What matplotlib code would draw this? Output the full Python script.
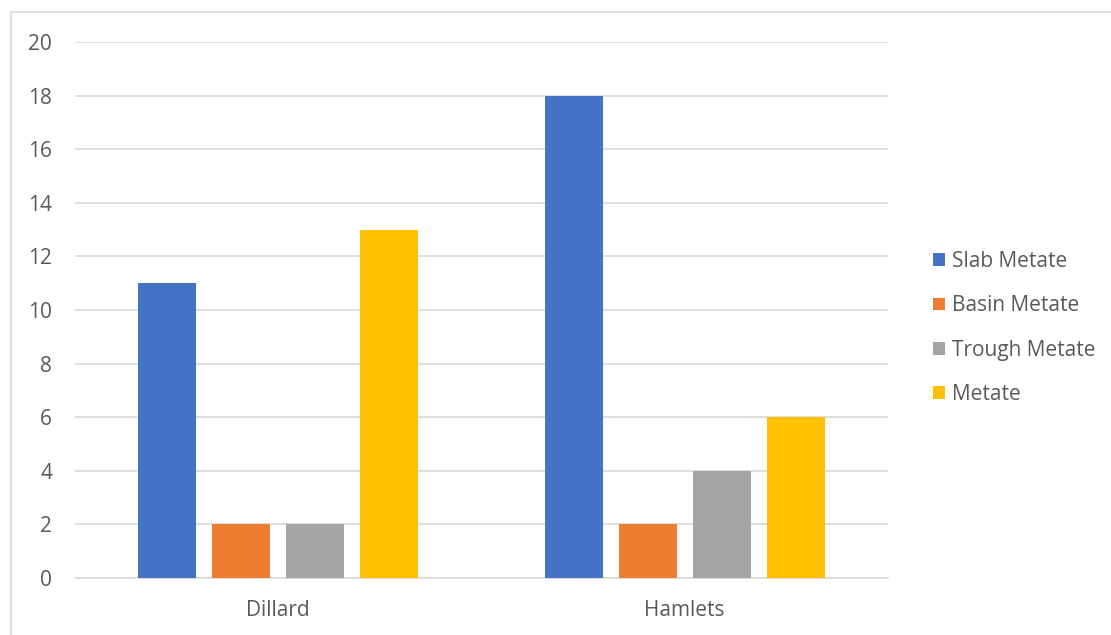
import matplotlib
matplotlib.use("Agg")
import matplotlib.pyplot as plt
from matplotlib.patches import Rectangle, Patch
import numpy as np

categories = ["Dillard", "Hamlets"]
series_names = ["Slab Metate", "Basin Metate", "Trough Metate", "Metate"]
slab = [11, 18]
basin = [2, 2]
trough = [2, 4]
metate = [13, 6]
yticks = [0, 2, 4, 6, 8, 10, 12, 14, 16, 18, 20]

colors = ["#4472C4", "#ED7D31", "#A5A5A5", "#FFC000"]
text_color = "#595959"
grid_color = "#D9D9D9"

plt.rcParams['font.family'] = ['Open Sans', 'DejaVu Sans']

W, H = 1111, 635
fig = plt.figure(figsize=(W / 100, H / 100), dpi=100)
ax = fig.add_axes([75 / W, (H - 578) / H, (888 - 75) / W, (578 - 42) / H])

# chart border
fig.patches.append(Rectangle((10.5 / W, -0.1), 1.2, (H - 12.5) / H + 0.1,
                             transform=fig.transFigure, fill=False,
                             edgecolor="#D9D9D9", linewidth=1.2))

x = np.arange(len(categories))
width = 58 / 406.5
step = 74 / 406.5
data = [slab, basin, trough, metate]
for i, (vals, name, c) in enumerate(zip(data, series_names, colors)):
    ax.bar(x + (i - 1.5) * step, vals, width=width, color=c, label=name, zorder=3)

ax.set_xlim(-0.5, 1.5)
ax.set_ylim(0, 20)
ax.set_yticks(yticks)
ax.set_yticklabels([str(t) for t in yticks])
ax.set_xticks(x)
ax.set_xticklabels(categories)
ax.yaxis.grid(True, color=grid_color, linewidth=1.2, zorder=0)
ax.set_axisbelow(True)
for s in ["top", "right", "left"]:
    ax.spines[s].set_visible(False)
ax.spines["bottom"].set_color(grid_color)
ax.spines["bottom"].set_linewidth(1.2)
ax.tick_params(axis="both", length=0, colors=text_color, labelsize=15)
ax.tick_params(axis="y", pad=16.5)
ax.tick_params(axis="x", pad=15.5)

handles = [Patch(facecolor=c, edgecolor="none") for c in colors]
leg = fig.legend(handles, series_names, loc="center left",
                 bbox_to_anchor=(914 / W, (H - 328) / H), frameon=False,
                 fontsize=15, labelspacing=1.12, handlelength=0.576,
                 handleheight=0.576, handletextpad=0.33, labelcolor=text_color)

fig.savefig("out.png", dpi=100)
